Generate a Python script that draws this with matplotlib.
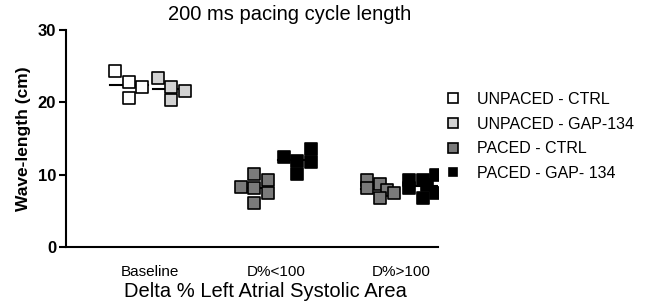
import matplotlib.pyplot as plt
from matplotlib.lines import Line2D
import numpy as np

plt.rcParams['font.family'] = ['Liberation Sans', 'DejaVu Sans']

categories = ['Baseline', 'D%<100', 'D%>100']
series_names = ['UNPACED - CTRL', 'UNPACED - GAP-134', 'PACED - CTRL', 'PACED - GAP- 134']
series_colors = ['white', '#d2d2d2', '#7a7a7a', 'black']

# values per group, plus the dot column each point sits in
baseline_ctrl = [24.3, 22.8, 20.6, 22.1]
baseline_ctrl_col = [-1, 0, 0, 1]
baseline_gap = [23.3, 22.1, 20.3, 21.5]
baseline_gap_col = [-1, 0, 0, 1]
lt100_ctrl = [8.3, 10.1, 8.1, 6.1, 9.2, 7.5]
lt100_ctrl_col = [-1, 0, 0, 0, 1, 1]
lt100_gap = [12.5, 11.9, 10.1, 13.6, 11.8]
lt100_gap_col = [-1, 0, 0, 1, 1]
gt100_ctrl = [9.3, 8.2, 8.75, 7.9, 6.8, 7.5]
gt100_ctrl_col = [-1, -1, 0, 0.5, 0, 1]
gt100_gap = [9.2, 8.2, 9.3, 8.5, 6.7, 9.9, 7.4]
gt100_gap_col = [-1, -1, 0, 0.3, 0, 1, 1]

groups = [
    (0, 0, baseline_ctrl, baseline_ctrl_col),
    (0, 1, baseline_gap, baseline_gap_col),
    (1, 2, lt100_ctrl, lt100_ctrl_col),
    (1, 3, lt100_gap, lt100_gap_col),
    (2, 2, gt100_ctrl, gt100_ctrl_col),
    (2, 3, gt100_gap, gt100_gap_col),
]

fig = plt.figure(figsize=(6.46, 3.06), dpi=100)
ax = fig.add_axes([0.102, 0.193, 0.576, 0.709])

sub_offset = 0.17
col_step = 0.108
for cat, s, vals, cols in groups:
    side = -1 if s in (0, 2) else 1
    center = cat + side * sub_offset
    xs = center + np.array(cols) * col_step
    ax.scatter(xs, vals, marker='s', s=66, facecolor=series_colors[s],
               edgecolor='black', linewidth=1.2, zorder=3)
    ax.plot([center - 0.15, center + 0.15], [np.mean(vals)] * 2,
            color='black', lw=1.5, zorder=2)

ax.set_xlim(-0.67, 2.29)
ax.set_ylim(0, 30)
ax.set_yticks([0, 10, 20, 30])
ax.set_xticks(range(len(categories)))
ax.set_xticklabels(categories, fontsize=11)
ax.tick_params(axis='x', length=0, pad=13)
ax.tick_params(axis='y', length=5, width=1.5, labelsize=12, pad=2)
for lab in ax.get_yticklabels():
    lab.set_fontweight('bold')
ax.spines['top'].set_visible(False)
ax.spines['right'].set_visible(False)
ax.spines['left'].set_linewidth(1.5)
ax.spines['bottom'].set_linewidth(1.5)

ax.set_ylabel('Wave-length (cm)', fontsize=12.5, fontweight='bold', labelpad=5)
ax.set_xlabel('Delta % Left Atrial Systolic Area', fontsize=14.5)
ax.xaxis.set_label_coords(0.535, -0.162)
fig.text(290 / 646, 1 - 15 / 306, '200 ms pacing cycle length', fontsize=14.5,
         ha='center', va='center')

handles = [Line2D([], [], marker='s', linestyle='none', markersize=7 if i < 3 else 6,
                  markerfacecolor=c, markeredgecolor='black', markeredgewidth=1.2)
           for i, c in enumerate(series_colors)]
fig.legend(handles, series_names, loc='upper left', bbox_to_anchor=(437 / 646, 1 - 84 / 306),
           frameon=False, fontsize=11.5, handlelength=1.0, handletextpad=1.0,
           labelspacing=0.6, borderpad=0)

fig.savefig('out.png', dpi=100)
